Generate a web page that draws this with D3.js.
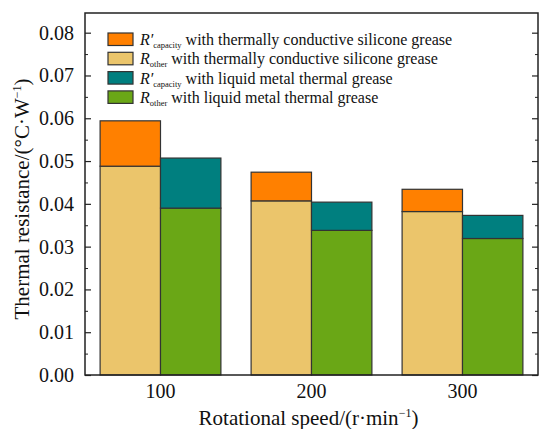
<!DOCTYPE html>
<html>
<head>
<meta charset="utf-8">
<script src="https://cdn.jsdelivr.net/npm/d3@7/dist/d3.min.js"></script>
<style>
  body { margin: 0; background: #fff; }
</style>
</head>
<body>
<div id="chart"></div>
<script>
  // data
  var speeds = ["100", "200", "300"];
  var otherSilicone = [0.0488, 0.0407, 0.0382];
  var capacitySilicone = [0.0106, 0.0067, 0.0052];
  var otherMetal = [0.0390, 0.0338, 0.0319];
  var capacityMetal = [0.0117, 0.0066, 0.0054];
  var yTicks = [0, 0.01, 0.02, 0.03, 0.04, 0.05, 0.06, 0.07, 0.08];

  var colors = {
    capSil: "#ff8000",
    othSil: "#ebc56b",
    capMet: "#007f7f",
    othMet: "#6aa716"
  };

  var serif = "'Liberation Serif', 'Times New Roman', Times, serif";

  var width = 539, height = 429;
  var margin = { top: 13, right: 1, bottom: 54, left: 85 };
  var innerW = width - margin.left - margin.right;
  var innerH = height - margin.top - margin.bottom;

  var svg = d3.select("#chart").append("svg")
    .attr("width", width)
    .attr("height", height)
    .attr("font-family", serif);

  var g = svg.append("g")
    .attr("transform", "translate(" + margin.left + "," + margin.top + ")");

  var x = d3.scaleBand()
    .domain(speeds)
    .range([0, innerW])
    .paddingInner(0.2)
    .paddingOuter(0.1);

  var sub = d3.scaleBand()
    .domain(["sil", "met"])
    .range([0, x.bandwidth()]);

  var y = d3.scaleLinear()
    .domain([0, 0.0846])
    .range([innerH, 0]);

  // stacked bars
  var bars = [];
  speeds.forEach(function (s, i) {
    bars.push({ s: s, grp: "sil", y0: 0, y1: otherSilicone[i], fill: colors.othSil });
    bars.push({ s: s, grp: "sil", y0: otherSilicone[i], y1: otherSilicone[i] + capacitySilicone[i], fill: colors.capSil });
    bars.push({ s: s, grp: "met", y0: 0, y1: otherMetal[i], fill: colors.othMet });
    bars.push({ s: s, grp: "met", y0: otherMetal[i], y1: otherMetal[i] + capacityMetal[i], fill: colors.capMet });
  });

  g.selectAll("rect.bar")
    .data(bars)
    .enter().append("rect")
    .attr("class", "bar")
    .attr("x", function (d) { return x(d.s) + sub(d.grp); })
    .attr("y", function (d) { return y(d.y1); })
    .attr("width", sub.bandwidth())
    .attr("height", function (d) { return y(d.y0) - y(d.y1); })
    .style("fill", function (d) { return d.fill; })
    .style("stroke", "#333")
    .style("stroke-width", 1.2);

  // y axis, ticks inward, with minor ticks
  var minor = d3.range(0.005, 0.085, 0.01);

  var yAxis = d3.axisLeft(y).tickValues(yTicks).tickFormat(d3.format(".2f"))
    .tickSizeInner(-6).tickSizeOuter(0).tickPadding(11);
  var yAx = g.append("g").call(yAxis);
  yAx.select(".domain").remove();
  yAx.selectAll("text").style("font-size", "20px").style("font-family", serif).style("fill", "#111");
  yAx.selectAll("line").style("stroke", "#222").style("stroke-width", 1.2);

  g.append("g").call(d3.axisLeft(y).tickValues(minor).tickFormat("").tickSizeInner(-3).tickSizeOuter(0))
    .call(function (a) { a.select(".domain").remove(); a.selectAll("line").style("stroke", "#222"); });

  var rAx = g.append("g").attr("transform", "translate(" + innerW + ",0)")
    .call(d3.axisRight(y).tickValues(yTicks).tickFormat("").tickSizeInner(-6).tickSizeOuter(0));
  rAx.select(".domain").remove();
  rAx.selectAll("line").style("stroke", "#222").style("stroke-width", 1.2);
  g.append("g").attr("transform", "translate(" + innerW + ",0)")
    .call(d3.axisRight(y).tickValues(minor).tickFormat("").tickSizeInner(-3).tickSizeOuter(0))
    .call(function (a) { a.select(".domain").remove(); a.selectAll("line").style("stroke", "#222"); });

  // x axis labels
  var xAx = g.append("g").attr("transform", "translate(0," + innerH + ")")
    .call(d3.axisBottom(x).tickSize(0).tickPadding(9));
  xAx.select(".domain").remove();
  xAx.selectAll("text").style("font-size", "20px").style("font-family", serif).style("fill", "#111");

  // frame
  g.append("rect")
    .attr("width", innerW)
    .attr("height", innerH)
    .style("fill", "none")
    .style("stroke", "#222")
    .style("stroke-width", 1.5);

  // axis titles
  var xt = svg.append("text")
    .attr("x", margin.left + innerW / 2 - 3)
    .attr("y", 425)
    .attr("text-anchor", "middle")
    .style("font-family", serif)
    .style("font-size", "21px")
    .style("fill", "#111")
    .text("Rotational speed/(r·min");
  xt.append("tspan").attr("dy", -8).style("font-size", "12px").text("−1");
  xt.append("tspan").attr("dy", 8).text(")");

  var yt = svg.append("text")
    .attr("transform", "translate(29,199) rotate(-90)")
    .attr("text-anchor", "middle")
    .style("font-family", serif)
    .style("font-size", "21px")
    .style("fill", "#111")
    .text("Thermal resistance/(°C·W");
  yt.append("tspan").attr("dy", -8).style("font-size", "12px").text("−1");
  yt.append("tspan").attr("dy", 8).text(")");

  // legend
  var legendItems = [
    { sym: "R′", sub: "capacity", text: " with thermally conductive silicone grease", fill: colors.capSil },
    { sym: "R", sub: "other", text: " with thermally conductive silicone grease", fill: colors.othSil },
    { sym: "R′", sub: "capacity", text: " with liquid metal thermal grease", fill: colors.capMet },
    { sym: "R", sub: "other", text: " with liquid metal thermal grease", fill: colors.othMet }
  ];

  var legend = svg.append("g").attr("transform", "translate(108,33)");
  var row = legend.selectAll("g")
    .data(legendItems)
    .enter().append("g")
    .attr("transform", function (d, i) { return "translate(0," + i * 19.3 + ")"; });

  row.append("rect")
    .attr("width", 25)
    .attr("height", 12.5)
    .style("fill", function (d) { return d.fill; })
    .style("stroke", "#333")
    .style("stroke-width", 1.2);

  var lt = row.append("text")
    .attr("x", 32)
    .attr("y", 12)
    .style("font-family", serif)
    .style("font-size", "16px")
    .style("fill", "#111");
  lt.append("tspan").style("font-style", "italic").text(function (d) { return d.sym; });
  lt.append("tspan").attr("dy", 3).style("font-size", "8.5px").text(function (d) { return d.sub; });
  lt.append("tspan").attr("dy", -3).text(function (d) { return d.text; });
</script>
</body>
</html>
